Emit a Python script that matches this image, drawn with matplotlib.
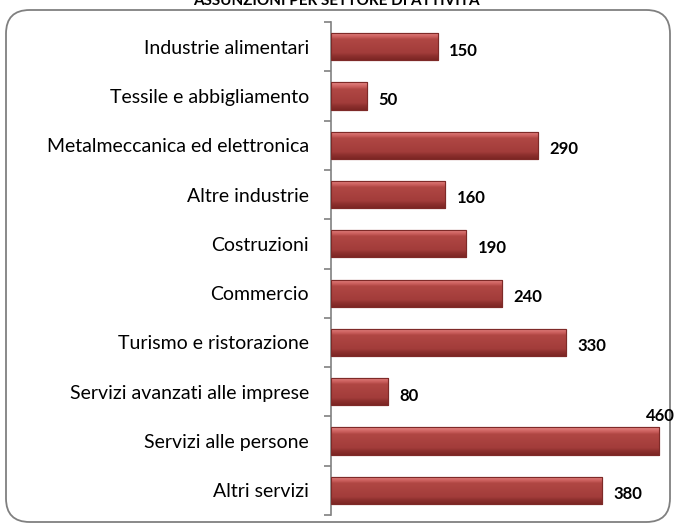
import matplotlib
matplotlib.use("Agg")
import matplotlib.pyplot as plt
import numpy as np
from matplotlib.patches import FancyBboxPatch
from matplotlib.colors import LinearSegmentedColormap

categories = ["Industrie alimentari", "Tessile e abbigliamento", "Metalmeccanica ed elettronica",
              "Altre industrie", "Costruzioni", "Commercio", "Turismo e ristorazione",
              "Servizi avanzati alle imprese", "Servizi alle persone", "Altri servizi"]
values = [150, 50, 290, 160, 190, 240, 330, 80, 460, 380]
title = "ASSUNZIONI PER SETTORE DI ATTIVITA'"

plt.rcParams['font.family'] = ['Lato', 'DejaVu Sans']

W, H = 676, 528
fig = plt.figure(figsize=(W / 100, H / 100), dpi=100)

# rounded border
border = FancyBboxPatch((6 / W, 6 / H), (670 - 6) / W, (520 - 8) / H,
                        boxstyle="round,pad=0,rounding_size=0.035",
                        transform=fig.transFigure, facecolor="none",
                        edgecolor="#808080", linewidth=1.3, mutation_aspect=W / H, zorder=-1)
fig.patches.append(border)

fig.text(0.5, 1.0 - 1 / H, title, ha="center", va="center", fontsize=11, fontweight="bold")

ax_l, ax_r = 331, 673
ax_t, ax_b = 22, 515
ax = fig.add_axes([ax_l / W, 1 - ax_b / H, (ax_r - ax_l) / W, (ax_b - ax_t) / H])
ax.set_facecolor("none")

y = np.arange(len(categories))
bars = ax.barh(y, values, height=0.55, color="#A94240", edgecolor="#8E2F2D", linewidth=0.8, zorder=2)
ax.set_xlim(0, 480)
ax.set_ylim(len(categories) - 0.5, -0.5)

grad = np.linspace(0, 1, 200).reshape(-1, 1)
cmap = LinearSegmentedColormap.from_list(
    "bev", [(0.0, "#E88886"), (0.18, "#C65A58"), (0.25, "#B04744"),
            (0.75, "#A23C3A"), (0.85, "#8E302E"), (1.0, "#7C2624")])
for b in bars:
    x0, y0, w, h = b.get_x(), b.get_y(), b.get_width(), b.get_height()
    im = ax.imshow(grad, extent=(x0, x0 + w, y0 + h, y0), aspect="auto", cmap=cmap, zorder=2.5,
                   origin="upper")
    im.set_clip_path(b)
    ax.add_patch(plt.Rectangle((x0, y0), w, h, fill=False, edgecolor="#7E2A28", linewidth=0.8, zorder=3))

for i, v in enumerate(values):
    if v == max(values):
        ax.text(v + 2, i - 0.5, str(v), ha="center", va="center", fontsize=12, fontweight="bold")
    else:
        ax.text(v + 16, i + 0.08, str(v), ha="left", va="center", fontsize=12, fontweight="bold")

ax.set_yticks(y)
ax.set_yticklabels(categories, fontsize=14)
ax.set_yticks(np.arange(len(categories) + 1) - 0.5, minor=True)
ax.tick_params(axis="y", which="major", length=0, pad=16)
ax.tick_params(axis="y", which="minor", length=5, color="#808080", width=1.2)
ax.set_xticks([])
for s in ["top", "right", "bottom"]:
    ax.spines[s].set_visible(False)
ax.spines["left"].set_color("#808080")
ax.spines["left"].set_linewidth(1.2)

fig.savefig("out.png", dpi=100)
